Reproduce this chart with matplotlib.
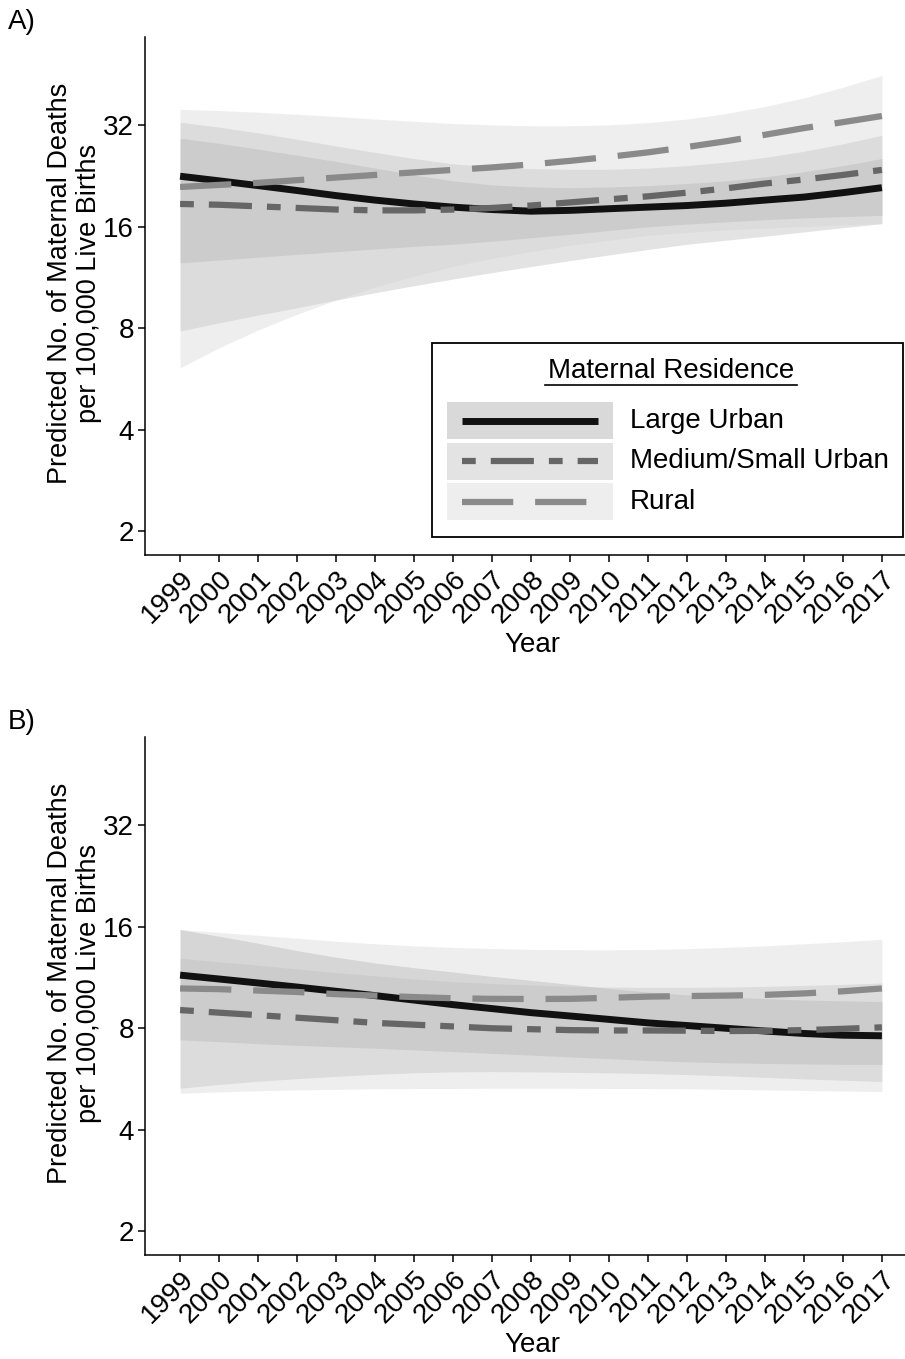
import matplotlib.pyplot as plt
from matplotlib.lines import Line2D
from matplotlib.patches import Rectangle

plt.rcParams['font.family'] = ['Liberation Sans', 'DejaVu Sans']

W, H = 905, 1359

years = list(range(1999, 2018))
groups = ["Large Urban", "Medium/Small Urban", "Rural"]
yticks = [2, 4, 8, 16, 32]

# Panel A - predicted rate and ribbon bounds
a_large = [22.6, 21.9, 21.2, 20.5, 19.8, 19.2, 18.7, 18.3, 18.0, 17.8, 17.9, 18.1, 18.3, 18.5, 18.8, 19.2, 19.6, 20.2, 20.9]
a_medium = [18.7, 18.6, 18.4, 18.2, 18.0, 17.9, 17.9, 18.0, 18.2, 18.5, 18.9, 19.3, 19.7, 20.2, 20.8, 21.5, 22.1, 22.8, 23.6]
a_rural = [21.0, 21.3, 21.6, 22.0, 22.4, 22.8, 23.2, 23.6, 24.0, 24.5, 25.1, 25.8, 26.6, 27.6, 28.7, 30.0, 31.4, 32.7, 34.1]

a_large_lo = [12.5, 12.75, 13.0, 13.25, 13.5, 13.75, 14.0, 14.2, 14.5, 14.85, 15.2, 15.6, 16.0, 16.3, 16.55, 16.8, 17.0, 17.15, 17.3]
a_large_hi = [29.3, 28.3, 27.2, 26.1, 25.0, 23.9, 22.8, 21.9, 21.3, 21.0, 20.9, 21.0, 21.2, 21.5, 21.9, 22.5, 23.3, 24.3, 25.5]
a_medium_lo = [7.85, 8.3, 8.75, 9.2, 9.7, 10.2, 10.7, 11.2, 11.7, 12.2, 12.7, 13.2, 13.7, 14.2, 14.6, 15.0, 15.45, 15.9, 16.35]
a_medium_hi = [32.7, 31.6, 30.4, 29.1, 27.8, 26.6, 25.5, 24.6, 24.1, 23.8, 23.7, 23.7, 23.9, 24.3, 24.9, 25.7, 26.8, 28.2, 29.9]
a_rural_lo = [6.1, 7.0, 7.9, 8.8, 9.7, 10.6, 11.4, 12.2, 12.9, 13.5, 14.1, 14.6, 15.1, 15.4, 15.65, 15.85, 16.05, 16.2, 16.35]
a_rural_hi = [35.7, 35.4, 35.0, 34.5, 34.0, 33.4, 32.9, 32.4, 32.1, 31.9, 31.9, 32.1, 32.6, 33.4, 34.7, 36.4, 38.6, 41.5, 45.0]

# Panel B
b_large = [11.5, 11.2, 10.9, 10.6, 10.3, 10.0, 9.7, 9.4, 9.15, 8.9, 8.7, 8.5, 8.3, 8.15, 8.0, 7.85, 7.72, 7.63, 7.6]
b_medium = [9.06, 8.9, 8.75, 8.6, 8.45, 8.3, 8.2, 8.1, 8.0, 7.95, 7.9, 7.88, 7.88, 7.87, 7.85, 7.86, 7.9, 7.97, 8.05]
b_rural = [10.5, 10.45, 10.35, 10.25, 10.1, 10.0, 9.9, 9.82, 9.78, 9.77, 9.78, 9.85, 9.93, 9.97, 10.0, 10.05, 10.15, 10.3, 10.5]

b_large_lo = [7.39, 7.3, 7.2, 7.12, 7.05, 6.98, 6.9, 6.82, 6.74, 6.66, 6.58, 6.5, 6.42, 6.36, 6.32, 6.29, 6.27, 6.25, 6.25]
b_large_hi = [15.7, 15.0, 14.3, 13.6, 13.0, 12.5, 12.1, 11.75, 11.4, 11.1, 10.8, 10.5, 10.25, 10.05, 9.9, 9.8, 9.7, 9.65, 9.6]
b_medium_lo = [5.31, 5.45, 5.57, 5.67, 5.76, 5.84, 5.9, 5.94, 5.95, 5.94, 5.92, 5.9, 5.87, 5.83, 5.78, 5.72, 5.66, 5.61, 5.56]
b_medium_hi = [12.9, 12.6, 12.3, 12.0, 11.7, 11.45, 11.2, 11.0, 10.85, 10.75, 10.65, 10.6, 10.58, 10.58, 10.6, 10.65, 10.72, 10.8, 10.9]
b_rural_lo = [5.13, 5.18, 5.22, 5.25, 5.27, 5.29, 5.3, 5.3, 5.31, 5.31, 5.31, 5.3, 5.3, 5.29, 5.27, 5.25, 5.23, 5.21, 5.19]
b_rural_hi = [15.7, 15.4, 15.1, 14.8, 14.5, 14.25, 14.05, 13.9, 13.8, 13.72, 13.68, 13.67, 13.7, 13.78, 13.9, 14.05, 14.25, 14.45, 14.7]

fill_colors = {"Large Urban": "#929292", "Medium/Small Urban": "#afafaf", "Rural": "#d1d1d1"}
fill_alpha = 0.35
line_colors = {"Large Urban": "#111111", "Medium/Small Urban": "#666666", "Rural": "#8a8a8a"}
line_dashes = {"Large Urban": None, "Medium/Small Urban": (2.2, 2.4, 6.9, 2.4), "Rural": (8.2, 3.5)}
line_widths = {"Large Urban": 5.0, "Medium/Small Urban": 4.5, "Rural": 4.5}


def fx(px):
    return px / W


def fy(py):
    return 1 - py / H


def draw_panel(ax, est, lo, hi):
    for g in groups:
        ax.fill_between(years, lo[g], hi[g], color=fill_colors[g], alpha=fill_alpha, lw=0)
    for g in groups:
        ln, = ax.plot(years, est[g], color=line_colors[g], lw=line_widths[g], solid_capstyle='butt')
        if line_dashes[g]:
            ln.set_dashes(line_dashes[g])
    ax.set_yscale('log', base=2)
    ax.set_ylim(1.70, 58.7)
    ax.set_xlim(1998.1, 2017.9)
    ax.set_yticks(yticks)
    ax.set_yticklabels([str(t) for t in yticks])
    ax.minorticks_off()
    ax.set_xticks(years)
    ax.set_xticklabels([str(y) for y in years], rotation=45, ha='right', va='top',
                       rotation_mode='anchor')
    ax.tick_params(labelsize=20, length=5, width=1.1, color='black', pad=3)
    for s in ['top', 'right']:
        ax.spines[s].set_visible(False)
    for s in ['left', 'bottom']:
        ax.spines[s].set_linewidth(1.1)
    ax.patch.set_alpha(0)


fig = plt.figure(figsize=(W / 100, H / 100), dpi=100)

ax_left, ax_right = 145, 917
panel_h = 555 - 36.5
tops = [36.5, 736.5]

axA = fig.add_axes([fx(ax_left), fy(tops[0] + panel_h), fx(ax_right - ax_left), panel_h / H])
axB = fig.add_axes([fx(ax_left), fy(tops[1] + panel_h), fx(ax_right - ax_left), panel_h / H])

draw_panel(axA,
           {"Large Urban": a_large, "Medium/Small Urban": a_medium, "Rural": a_rural},
           {"Large Urban": a_large_lo, "Medium/Small Urban": a_medium_lo, "Rural": a_rural_lo},
           {"Large Urban": a_large_hi, "Medium/Small Urban": a_medium_hi, "Rural": a_rural_hi})
draw_panel(axB,
           {"Large Urban": b_large, "Medium/Small Urban": b_medium, "Rural": b_rural},
           {"Large Urban": b_large_lo, "Medium/Small Urban": b_medium_lo, "Rural": b_rural_lo},
           {"Large Urban": b_large_hi, "Medium/Small Urban": b_medium_hi, "Rural": b_rural_hi})

ylab = "Predicted No. of Maternal Deaths\nper 100,000 Live Births"
for off, tag in zip([0, 700], ["A)", "B)"]):
    fig.text(fx(75), fy(283 + off), ylab, rotation=90, ha='center', va='center',
             fontsize=19.5, linespacing=1.15)
    fig.text(fx(532), fy(645 + off), "Year", ha='center', va='center', fontsize=20)
    fig.text(fx(8), fy(22 + off), tag, ha='left', va='center', fontsize=20)

# legend (panel A)
fig.add_artist(Rectangle((fx(432), fy(537)), fx(903 - 432), (537 - 343) / H,
                         transform=fig.transFigure, facecolor='white', edgecolor='black', lw=1.3))
fig.text(fx(671), fy(371), "Maternal Residence", ha='center', va='center', fontsize=20)
fig.add_artist(Line2D([fx(545), fx(797)], [fy(385), fy(385)], transform=fig.transFigure,
                      color='black', lw=1.2))
row_y = [420.5, 461, 501.5]
for g, ry in zip(groups, row_y):
    fig.add_artist(Rectangle((fx(447), fy(ry + 18.5)), fx(613 - 447), 37 / H,
                             transform=fig.transFigure, facecolor=fill_colors[g],
                             alpha=fill_alpha, lw=0))
    ln = Line2D([fx(462), fx(598)], [fy(ry), fy(ry)], transform=fig.transFigure,
                color=line_colors[g], lw=line_widths[g], solid_capstyle='butt')
    if line_dashes[g]:
        ln.set_dashes(line_dashes[g])
    fig.add_artist(ln)
    fig.text(fx(630), fy(ry), g, ha='left', va='center', fontsize=20)

fig.savefig("out.png", dpi=100)
